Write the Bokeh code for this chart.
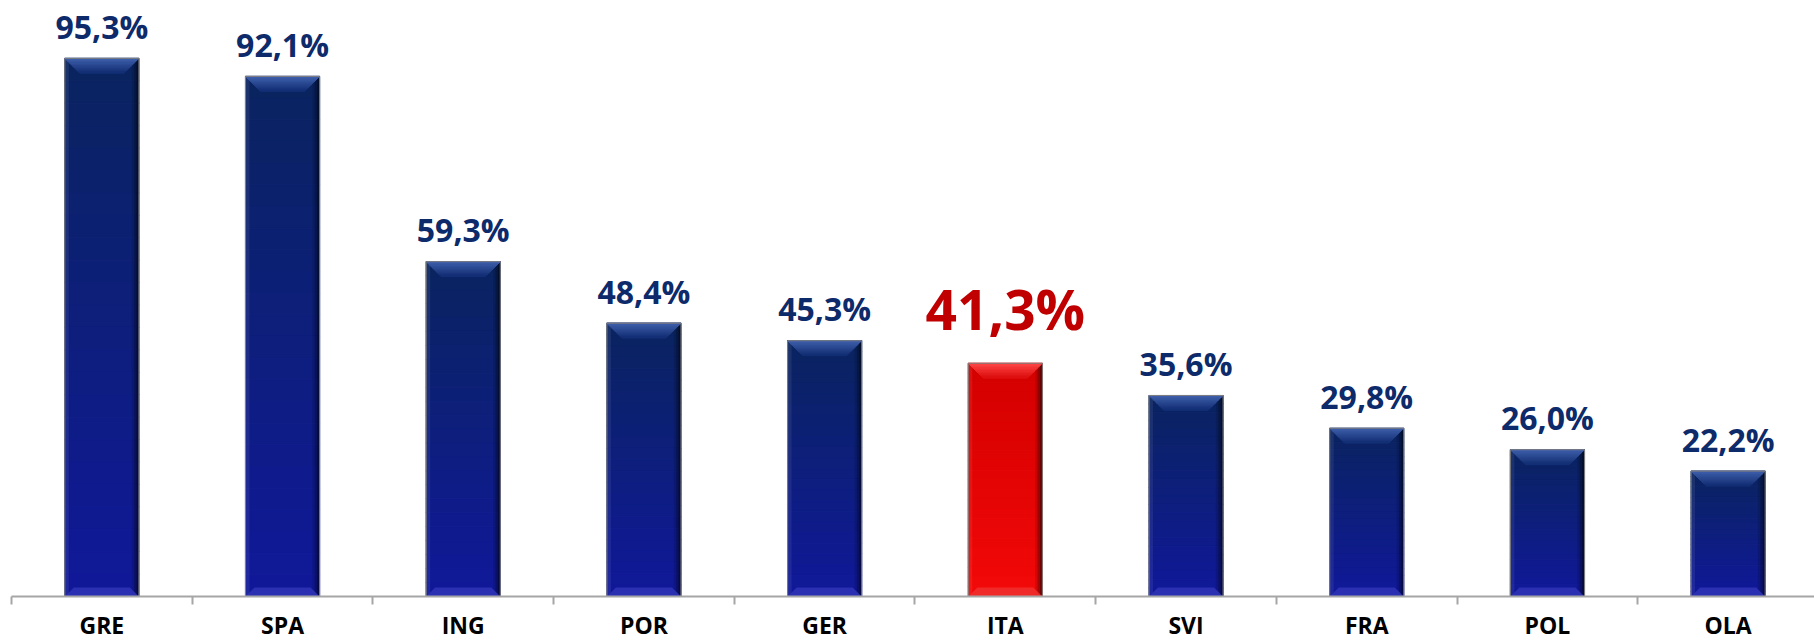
from bokeh.plotting import figure
from bokeh.models import ColumnDataSource, FixedTicker
from bokeh.core.properties import value
from bokeh.embed import file_html
from bokeh.resources import INLINE

categories = ["GRE", "SPA", "ING", "POR", "GER", "ITA", "SVI", "FRA", "POL", "OLA"]
values = [95.3, 92.1, 59.3, 48.4, 45.3, 41.3, 35.6, 29.8, 26.0, 22.2]
labels = ["95,3%", "92,1%", "59,3%", "48,4%", "45,3%", "41,3%", "35,6%", "29,8%", "26,0%", "22,2%"]
highlight = "ITA"

FONT = "Open Sans"
W = 0.41          # bar width (category units)
PX_X = 180.7      # pixels per category
PX_Y = 5.656      # pixels per percent unit

p = figure(width=1814, height=643, x_range=(-0.5, 9.478), y_range=(0, 105.55),
           output_backend="svg", toolbar_location=None, y_axis_location=None,
           min_border_left=11, min_border_right=0, min_border_top=0, min_border_bottom=46)
p.outline_line_color = None
p.xgrid.visible = False
p.ygrid.visible = False
p.background_fill_color = "white"


def lerp(c1, c2, t):
    return "#%02x%02x%02x" % tuple(int(round(a + (b - a) * t)) for a, b in zip(c1, c2))


BLUE_TOP, BLUE_BOT = (10, 36, 96), (16, 24, 152)
RED_TOP, RED_BOT = (212, 0, 0), (242, 8, 8)

N = 24
for i, (cat, v) in enumerate(zip(categories, values)):
    red = cat == highlight
    top_c, bot_c = (RED_TOP, RED_BOT) if red else (BLUE_TOP, BLUE_BOT)
    # vertical gradient bands
    tops = [v * (N - k) / N for k in range(N)]
    bots = [v * (N - k - 1) / N for k in range(N)]
    cols = [lerp(top_c, bot_c, k / (N - 1)) for k in range(N)]
    p.quad(left=i - W / 2, right=i + W / 2, top=tops, bottom=bots,
           fill_color=cols, line_color=cols, line_width=1.2)
    # right edge shading
    for j, a in enumerate([0.12, 0.22, 0.35]):
        p.quad(left=i + W / 2 - (3 - j) * 2.4 / PX_X, right=i + W / 2, top=v, bottom=0,
               fill_color="black", fill_alpha=a, line_color=None)
    # left edge highlight
    p.quad(left=i - W / 2, right=i - W / 2 + 4 / PX_X, top=v, bottom=0,
           fill_color="white", fill_alpha=0.07, line_color=None)
    # top bevel
    dx, dy = 15 / PX_X, 15 / PX_Y
    tb_light = (255, 72, 72) if red else (64, 96, 172)
    tb_dark = (222, 16, 16) if red else (20, 48, 118)
    M = 10
    for k in range(M):
        f0, f1 = k / M, (k + 1) / M
        xs = [i - W / 2 + dx * f0, i + W / 2 - dx * f0, i + W / 2 - dx * f1, i - W / 2 + dx * f1]
        ys = [v - dy * f0, v - dy * f0, v - dy * f1, v - dy * f1]
        c = lerp(tb_light, tb_dark, k / (M - 1))
        p.patch(xs, ys, fill_color=c, line_color=c, line_width=0.8)
    # bottom bevel
    bx, by = 9 / PX_X, 9 / PX_Y
    bb = (238, 34, 34) if red else (34, 40, 176)
    p.patch([i - W / 2, i + W / 2, i + W / 2 - bx, i - W / 2 + bx],
            [0, 0, by, by], fill_color=lerp(bb, (255, 255, 255), 0.05), fill_alpha=0.9, line_color=None)
    # outline
    p.quad(left=i - W / 2, right=i + W / 2, top=v, bottom=0,
           fill_color=None, line_color="#7f7f7f", line_width=1)

# value labels
src = ColumnDataSource(dict(
    x=list(range(len(categories))), y=values, text=labels,
    color=["#c00000" if c == highlight else "#0d2a6a" for c in categories],
    size=["55px" if c == highlight else "32px" for c in categories],
    off=[-55 if c == highlight else -32 for c in categories],
))
p.text(x="x", y="y", text="text", source=src, text_color="color", text_font_size="size",
       y_offset="off", text_align="center", text_baseline="alphabetic",
       text_font=value(FONT), text_font_style="bold")

# category axis: labels at centers, ticks at boundaries
centers = list(range(len(categories)))
bounds = [c - 0.5 for c in range(len(categories) + 1)]
ax = p.xaxis[0]
ax.ticker = FixedTicker(ticks=centers, minor_ticks=bounds)
ax.major_label_overrides = {c: categories[c] for c in centers}
ax.major_tick_in = 0
ax.major_tick_out = 0
ax.minor_tick_in = 0
ax.minor_tick_out = 8
ax.minor_tick_line_color = "#a6a6a6"
ax.minor_tick_line_width = 2
ax.axis_line_color = "#a6a6a6"
ax.axis_line_width = 2
ax.major_label_text_font = FONT
ax.major_label_text_font_style = "bold"
ax.major_label_text_font_size = "23px"
ax.major_label_text_color = "black"
ax.major_label_text_line_height = 0.8
ax.major_label_standoff = 4

open("out.html", "w").write(file_html(p, INLINE))
